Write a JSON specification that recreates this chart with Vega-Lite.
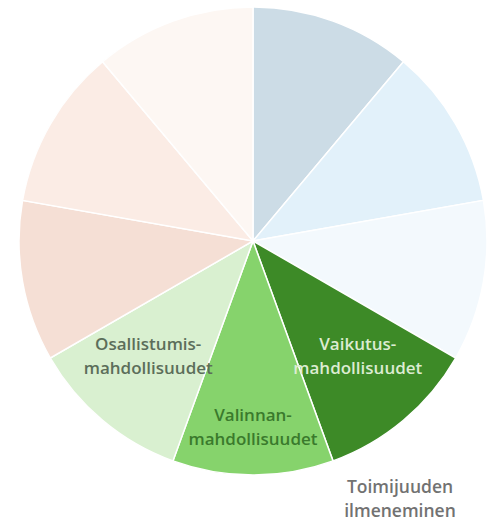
{
  "$schema": "https://vega.github.io/schema/vega-lite/v6.json",
  "width": 506,
  "height": 482,
  "padding": 0,
  "background": "white",
  "config": {"view": {"stroke": null}},
  "title": {
    "text": ["Toimijuuden", "ilmeneminen"],
    "orient": "bottom",
    "anchor": "middle",
    "dx": 147,
    "offset": -3,
    "font": "Open Sans",
    "fontSize": 17.5,
    "fontWeight": 600,
    "color": "#727272",
    "lineHeight": 23.5
  },
  "data": {
    "values": [
      {"id": 1, "osa": "s1", "value": 1, "label": ""},
      {"id": 2, "osa": "s2", "value": 1, "label": ""},
      {"id": 3, "osa": "s3", "value": 1, "label": ""},
      {"id": 4, "osa": "Vaikutusmahdollisuudet", "value": 1, "label": "Vaikutus-\nmahdollisuudet"},
      {"id": 5, "osa": "Valinnanmahdollisuudet", "value": 1, "label": "Valinnan-\nmahdollisuudet"},
      {"id": 6, "osa": "Osallistumismahdollisuudet", "value": 1, "label": "Osallistumis-\nmahdollisuudet"},
      {"id": 7, "osa": "s7", "value": 1, "label": ""},
      {"id": 8, "osa": "s8", "value": 1, "label": ""},
      {"id": 9, "osa": "s9", "value": 1, "label": ""}
    ]
  },
  "encoding": {
    "theta": {"field": "value", "type": "quantitative", "stack": true},
    "order": {"field": "id", "type": "quantitative"}
  },
  "layer": [
    {
      "mark": {"type": "arc", "outerRadius": 234, "stroke": "#ffffff", "strokeWidth": 1.5},
      "encoding": {
        "color": {
          "field": "osa",
          "type": "nominal",
          "legend": null,
          "scale": {
            "domain": ["s1", "s2", "s3", "Vaikutusmahdollisuudet", "Valinnanmahdollisuudet", "Osallistumismahdollisuudet", "s7", "s8", "s9"],
            "range": ["#ccdce6", "#e2f1fa", "#f3f9fd", "#3d8a27", "#86d36c", "#d9f0d0", "#f5dfd5", "#fbece5", "#fdf7f3"]
          }
        }
      }
    },
    {
      "mark": {"type": "text", "radius": 163, "dy": -21, "font": "Open Sans", "fontSize": 17, "fontWeight": 600, "lineBreak": "\n", "lineHeight": 24, "align": "center", "baseline": "middle"},
      "encoding": {
        "text": {"field": "label", "type": "nominal"},
        "opacity": {"condition": {"test": "datum.id === 5", "value": 0}, "value": 1},
        "color": {
          "field": "osa",
          "type": "nominal",
          "legend": null,
          "scale": {
            "domain": ["s1", "s2", "s3", "Vaikutusmahdollisuudet", "Valinnanmahdollisuudet", "Osallistumismahdollisuudet", "s7", "s8", "s9"],
            "range": ["#000000", "#000000", "#000000", "#dcecd2", "#3a7a2c", "#5c6e5a", "#000000", "#000000", "#000000"]
          }
        }
      }
    },
    {
      "mark": {"type": "text", "radius": 187, "dy": -12, "font": "Open Sans", "fontSize": 17, "fontWeight": 600, "lineBreak": "\n", "lineHeight": 24, "align": "center", "baseline": "middle"},
      "encoding": {
        "text": {"field": "label", "type": "nominal"},
        "opacity": {"condition": {"test": "datum.id === 5", "value": 1}, "value": 0},
        "color": {
          "field": "osa",
          "type": "nominal",
          "legend": null,
          "scale": {
            "domain": ["s1", "s2", "s3", "Vaikutusmahdollisuudet", "Valinnanmahdollisuudet", "Osallistumismahdollisuudet", "s7", "s8", "s9"],
            "range": ["#000000", "#000000", "#000000", "#dcecd2", "#3a7a2c", "#5c6e5a", "#000000", "#000000", "#000000"]
          }
        }
      }
    }
  ],
  "resolve": {"scale": {"color": "independent"}}
}
